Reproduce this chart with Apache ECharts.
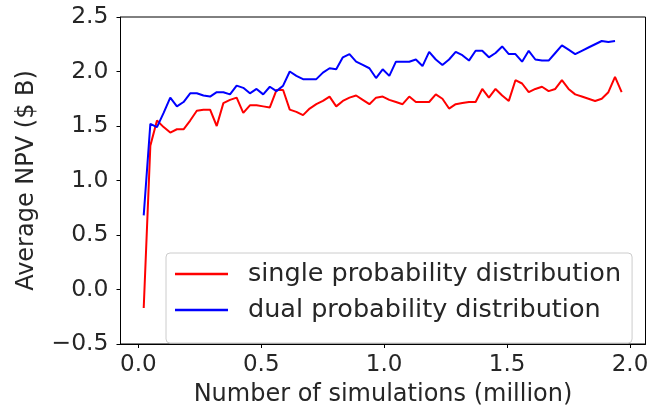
<!DOCTYPE html>
<html>
<head>
<meta charset="utf-8">
<script src="https://cdn.jsdelivr.net/npm/echarts@6/dist/echarts.min.js"></script>
<style>
  html, body { margin: 0; padding: 0; background: #fff; }
  #chart { width: 658px; height: 412px; }
</style>
</head>
<body>
<div id="chart"></div>
<script>
// Number of simulations (million) at each sample
const simulations = [
  0.022, 0.049, 0.076, 0.103, 0.130, 0.157, 0.184, 0.211, 0.238, 0.265,
  0.292, 0.319, 0.346, 0.373, 0.400, 0.427, 0.454, 0.481, 0.508, 0.535,
  0.562, 0.589, 0.616, 0.643, 0.670, 0.697, 0.724, 0.751, 0.778, 0.805,
  0.832, 0.859, 0.886, 0.913, 0.940, 0.967, 0.994, 1.021, 1.048, 1.075,
  1.102, 1.129, 1.156, 1.183, 1.210, 1.237, 1.264, 1.291, 1.318, 1.345,
  1.372, 1.399, 1.426, 1.453, 1.480, 1.507, 1.534, 1.561, 1.588, 1.615,
  1.642, 1.669, 1.696, 1.723, 1.750, 1.777, 1.804, 1.831, 1.858, 1.885,
  1.912, 1.939, 1.966
];

// Average NPV ($ B), single probability distribution
const singleNPV = [
  -0.17, 1.32, 1.55, 1.49, 1.44, 1.47, 1.47, 1.55, 1.64, 1.65,
  1.65, 1.50, 1.71, 1.74, 1.76, 1.62, 1.69, 1.69, 1.68, 1.67,
  1.83, 1.83, 1.65, 1.63, 1.60, 1.66, 1.70, 1.73, 1.77, 1.68,
  1.73, 1.76, 1.78, 1.74, 1.70, 1.76, 1.77, 1.74, 1.72, 1.70,
  1.77, 1.72, 1.72, 1.72, 1.79, 1.75, 1.66, 1.70, 1.71, 1.72,
  1.72, 1.84, 1.76, 1.84, 1.78, 1.73, 1.92, 1.89, 1.81, 1.84,
  1.86, 1.82, 1.84, 1.92, 1.84, 1.79, 1.77, 1.75, 1.73, 1.75,
  1.81, 1.95, 1.81
];

// Average NPV ($ B), dual probability distribution
const dualNPV = [
  0.68, 1.52, 1.49, 1.62, 1.76, 1.68, 1.72, 1.80, 1.80, 1.78,
  1.77, 1.81, 1.81, 1.79, 1.87, 1.85, 1.80, 1.84, 1.79, 1.86,
  1.82, 1.87, 2.00, 1.96, 1.93, 1.93, 1.93, 1.99, 2.03, 2.02,
  2.13, 2.16, 2.09, 2.06, 2.03, 1.94, 2.02, 1.96, 2.09, 2.09,
  2.09, 2.11, 2.05, 2.18, 2.11, 2.06, 2.11, 2.18, 2.15, 2.10,
  2.19, 2.19, 2.13, 2.17, 2.23, 2.16, 2.16, 2.09, 2.19, 2.11,
  2.10, 2.10, 2.17, 2.24, 2.20, 2.16, 2.19, 2.22, 2.25, 2.28,
  2.27, 2.28
];

const xTicks = [0.0, 0.5, 1.0, 1.5, 2.0];
const seriesNames = ['single probability distribution', 'dual probability distribution'];

const FONT = '"DejaVu Sans", sans-serif';
const INK = '#262626';

function pairs(xs, ys) {
  return ys.map((y, i) => [xs[i], y]);
}
function fmt(v) {
  return v < 0 ? '\u2212' + Math.abs(v).toFixed(1) : v.toFixed(1);
}

const chart = echarts.init(document.getElementById('chart'), null, { renderer: 'canvas' });
chart.setOption({
  animation: false,
  backgroundColor: '#fff',
  grid: {
    left: 120.5, right: 12.5, top: 17, bottom: 66,
    show: true, borderColor: '#000', borderWidth: 1, backgroundColor: 'transparent'
  },
  xAxis: {
    type: 'value',
    min: -0.0724, max: 2.063,
    name: 'Number of simulations (million)',
    nameLocation: 'middle',
    nameGap: 39,
    nameTextStyle: { fontFamily: FONT, fontSize: 24, color: INK },
    axisLine: { show: true, onZero: false, lineStyle: { color: '#000', width: 1 } },
    axisTick: { show: true, length: 4, inside: false, customValues: xTicks, lineStyle: { color: '#000' } },
    axisLabel: { customValues: xTicks, formatter: fmt, margin: 10, fontFamily: FONT, fontSize: 23, color: INK },
    splitLine: { show: false }
  },
  yAxis: {
    type: 'value',
    min: -0.5, max: 2.5, interval: 0.5,
    name: 'Average NPV ($ B)',
    nameLocation: 'middle',
    nameGap: 82,
    nameTextStyle: { fontFamily: FONT, fontSize: 24, color: INK },
    axisLine: { show: true, onZero: false, lineStyle: { color: '#000', width: 1 } },
    axisTick: { show: true, length: 4, inside: false, lineStyle: { color: '#000' } },
    axisLabel: { formatter: fmt, margin: 12, fontFamily: FONT, fontSize: 23.5, color: INK },
    splitLine: { show: false }
  },
  legend: {
    orient: 'vertical',
    left: 166, top: 253,
    padding: [8, 11, 20, 9],
    itemGap: 10,
    itemWidth: 53, itemHeight: 2.5,
    icon: 'rect',
    backgroundColor: 'rgba(255,255,255,0.8)',
    borderColor: '#cccccc', borderWidth: 1, borderRadius: 4,
    textStyle: { fontFamily: FONT, fontSize: 25.5, color: INK, lineHeight: 26, padding: [0, 0, 0, 15] },
    data: seriesNames
  },
  series: [
    {
      name: seriesNames[0], type: 'line', showSymbol: false, symbol: 'none',
      color: '#ff0000', lineStyle: { color: '#ff0000', width: 2 },
      data: pairs(simulations, singleNPV)
    },
    {
      name: seriesNames[1], type: 'line', showSymbol: false, symbol: 'none',
      color: '#0000ff', lineStyle: { color: '#0000ff', width: 2 },
      data: pairs(simulations, dualNPV)
    }
  ]
});
</script>
</body>
</html>
